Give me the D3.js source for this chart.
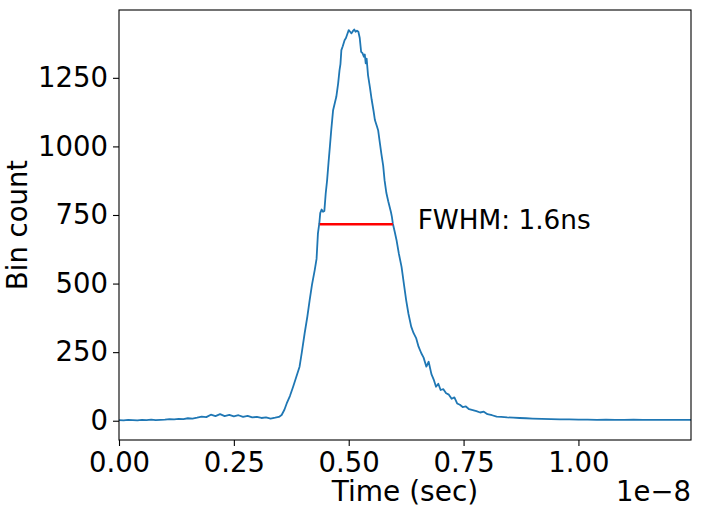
<!DOCTYPE html>
<html>
<head>
<meta charset="utf-8">
<script src="https://cdn.jsdelivr.net/npm/d3@7"></script>
<style>
  body { margin: 0; background: #fff; }
  svg text { font-family: "DejaVu Sans", sans-serif; fill: #000; }
</style>
</head>
<body>
<svg id="chart" width="706" height="512"></svg>
<script>
// time in units of 1e-8 sec
var timeE8 = [
  0.000,0.010,0.020,0.030,0.040,0.050,0.060,0.070,0.080,0.090,
  0.100,0.110,0.120,0.130,0.140,0.150,0.160,0.170,0.180,0.190,
  0.200,0.210,0.220,0.230,0.240,0.250,0.260,0.270,0.280,0.290,
  0.300,0.310,0.320,0.330,0.340,0.348,0.354,0.360,0.365,0.372,
  0.379,0.386,0.393,0.398,0.404,0.410,0.415,0.420,0.426,0.430,
  0.433,0.436,0.438,0.441,0.444,0.447,0.450,0.453,0.456,0.459,
  0.462,0.466,0.470,0.473,0.477,0.480,0.482,0.484,0.487,0.491,
  0.494,0.497,0.500,0.503,0.506,0.509,0.512,0.515,0.518,0.521,
  0.524,0.527,0.530,0.533,0.535,0.537,0.539,0.542,0.546,0.550,
  0.554,0.557,0.561,0.564,0.568,0.571,0.575,0.578,0.582,0.586,
  0.589,0.592,0.594,0.596,0.600,0.604,0.609,0.615,0.620,0.625,
  0.630,0.636,0.641,0.647,0.652,0.658,0.663,0.669,0.674,0.680,
  0.685,0.690,0.695,0.700,0.706,0.712,0.718,0.724,0.730,0.736,
  0.742,0.748,0.755,0.762,0.770,0.778,0.786,0.794,0.802,0.812,
  0.822,0.832,0.845,0.858,0.872,0.886,0.900,0.920,0.940,0.960,
  0.980,1.000,1.020,1.040,1.060,1.080,1.100,1.120,1.140,1.160,
  1.180,1.200,1.220,1.245
];
var binCount = [
  2,1,3,2,1,3,2,4,2,3,
  4,6,5,7,6,9,8,11,15,13,
  22,17,24,17,21,16,20,14,18,12,
  14,10,12,8,11,14,21,40,63,90,
  124,160,197,250,318,380,440,495,549,590,
  683,720,757,770,762,765,830,877,940,999,
  1060,1132,1160,1181,1230,1278,1300,1351,1365,1387,
  1395,1410,1424,1418,1412,1420,1426,1418,1422,1418,
  1395,1345,1340,1327,1335,1303,1320,1260,1217,1170,
  1130,1096,1075,1059,1010,974,930,877,830,800,
  780,760,743,719,690,659,610,561,500,440,
  390,343,320,300,270,246,230,197,215,170,
  150,124,135,112,115,100,95,80,85,63,
  58,50,52,42,39,35,30,33,24,20,
  15,14,12,11,10,9,8,7,6,5,
  5,4,4,3,4,3,3,4,3,3,
  3,3,3,3
];
var xTicks = [0, 0.25, 0.5, 0.75, 1.0];
var yTicks = [0, 250, 500, 750, 1000, 1250];
var fwhmX = [0.437, 0.596];   // start / end of the red bar
var fwhmY = 716;
var fwhmLabel = "FWHM: 1.6ns";
var labelPos = [0.65, 700];

var svg = d3.select("#chart");
var mLeft = 119, mRight = 691, mTop = 10, mBottom = 440;
var fs = 27.5;

var points = timeE8.map(function (t, i) { return [t, binCount[i]]; });

var x = d3.scaleLinear()
    .domain(d3.extent(timeE8))
    .range([mLeft, mRight]);

var yMin = d3.min(binCount), yMax = d3.max(binCount);
var pad = (yMax - yMin) * 0.05;
var y = d3.scaleLinear()
    .domain([yMin - pad, yMax + pad])
    .range([mBottom, mTop]);

svg.append("rect")
    .attr("width", 706).attr("height", 512).attr("fill", "#fff");

// curve
svg.append("path")
    .datum(points)
    .attr("fill", "none")
    .attr("stroke", "#1f77b4")
    .attr("stroke-width", 1.8)
    .attr("stroke-linejoin", "round")
    .attr("d", d3.line().x(function (d) { return x(d[0]); }).y(function (d) { return y(d[1]); }));

// fwhm bar
svg.append("line")
    .attr("x1", x(fwhmX[0])).attr("x2", x(fwhmX[1]))
    .attr("y1", y(fwhmY)).attr("y2", y(fwhmY))
    .attr("stroke", "#ff0000")
    .attr("stroke-width", 2.6);

svg.append("text")
    .attr("x", x(labelPos[0]))
    .attr("y", y(labelPos[1]))
    .style("font-size", "26.3px")
    .text(fwhmLabel);

// axes
var xAxis = svg.append("g")
    .attr("transform", "translate(0," + mBottom + ")")
    .call(d3.axisBottom(x).tickValues(xTicks).tickFormat(d3.format(".2f")).tickSize(6).tickPadding(6).tickSizeOuter(0));
var yAxis = svg.append("g")
    .attr("transform", "translate(" + mLeft + ",0)")
    .call(d3.axisLeft(y).tickValues(yTicks).tickFormat(d3.format("d")).tickSize(6).tickPadding(5).tickSizeOuter(0));

[xAxis, yAxis].forEach(function (g) {
    g.select(".domain").remove();
    g.selectAll("line").attr("stroke", "#000").attr("stroke-width", 1.1);
    g.selectAll("text").style("font-size", fs + "px").attr("font-family", "DejaVu Sans").attr("fill", "#000");
});

svg.append("rect")
    .attr("x", mLeft).attr("y", mTop)
    .attr("width", mRight - mLeft).attr("height", mBottom - mTop)
    .attr("fill", "none")
    .attr("stroke", "#000")
    .attr("stroke-width", 1.1);

// labels
svg.append("text")
    .attr("x", (mLeft + mRight) / 2)
    .attr("y", 501)
    .attr("text-anchor", "middle")
    .style("font-size", "28px")
    .text("Time (sec)");

svg.append("text")
    .attr("x", mRight)
    .attr("y", 501)
    .attr("text-anchor", "end")
    .style("font-size", fs + "px")
    .text("1e\u22128");

svg.append("text")
    .attr("transform", "translate(27," + (mTop + mBottom) / 2 + ") rotate(-90)")
    .attr("text-anchor", "middle")
    .style("font-size", fs + "px")
    .text("Bin count");
</script>
</body>
</html>
